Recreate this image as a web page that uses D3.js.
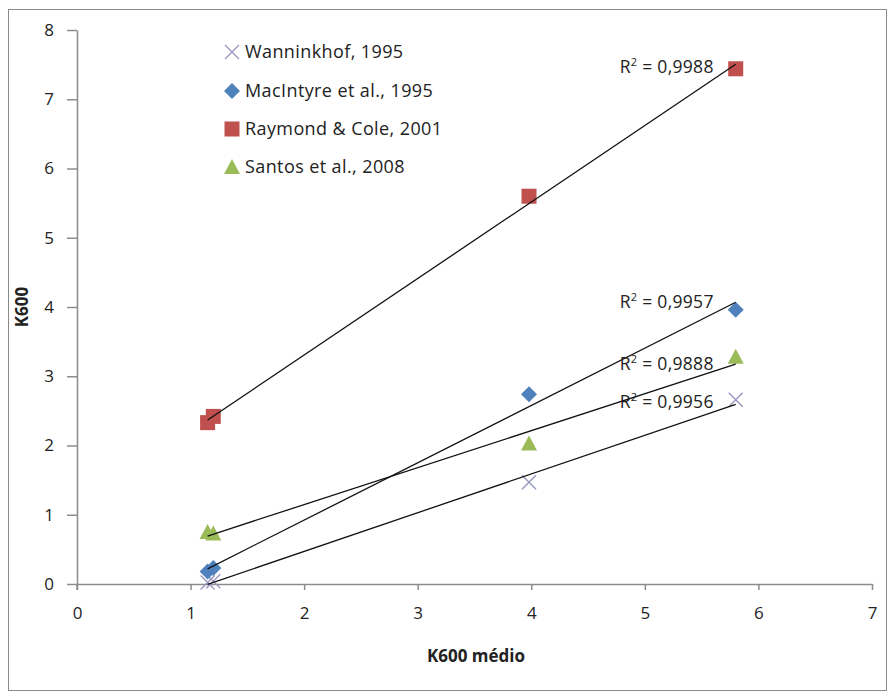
<!DOCTYPE html>
<html><head><meta charset="utf-8">
<script src="https://cdn.jsdelivr.net/npm/d3@7"></script>
<style>body{margin:0;background:#fff}svg{display:block}</style>
</head><body>
<script>
// ---- data ----
const seriesNames = ["Wanninkhof, 1995", "MacIntyre et al., 1995", "Raymond & Cole, 2001", "Santos et al.,  2008"];
const xValues = [1.15, 1.2, 3.98, 5.8];
const wanninkhof = [0.02, 0.04, 1.47, 2.66];
const macintyre = [0.18, 0.23, 2.74, 3.96];
const raymond = [2.33, 2.42, 5.60, 7.44];
const santos = [0.75, 0.73, 2.03, 3.28];
const r2Labels = ["0,9956", "0,9957", "0,9988", "0,9888"];
const xTicks = [0, 1, 2, 3, 4, 5, 6, 7];
const yTicks = [0, 1, 2, 3, 4, 5, 6, 7, 8];
const xTitle = "K600 médio";
const yTitle = "K600";

const W = 891, H = 696;
const svg = d3.select("body").append("svg").attr("width", W).attr("height", H);
const font = "'Open Sans', 'Liberation Sans', sans-serif";

svg.append("rect").attr("x", 8.5).attr("y", 9.5).attr("width", 878).attr("height", 681)
  .attr("fill", "#fff").attr("stroke", "#8a8a8a").attr("stroke-width", 1);

const x = d3.scaleLinear().domain([0, 7]).range([77, 872]);
const y = d3.scaleLinear().domain([0, 8]).range([584, 30]);

const axisColor = "#8c8c8c";
const gx = svg.append("g").attr("transform", `translate(0,${y(0)})`)
  .call(d3.axisBottom(x).tickValues(xTicks).tickFormat(d3.format("d")).tickSize(6).tickSizeOuter(0).tickPadding(17));
const gy = svg.append("g").attr("transform", `translate(${x(0)},0)`)
  .call(d3.axisLeft(y).tickValues(yTicks).tickFormat(d3.format("d")).tickSize(10).tickSizeOuter(0).tickPadding(13));
[gx, gy].forEach(g => {
  g.select(".domain").attr("stroke", axisColor).attr("stroke-width", 1.5);
  g.selectAll(".tick line").attr("stroke", axisColor).attr("stroke-width", 1.5);
  g.selectAll(".tick text").attr("fill", "#222").style("font-family", font).style("font-size", "17px");
});
svg.append("line").attr("x1", x(0)).attr("x2", x(0)).attr("y1", y(0)).attr("y2", y(0) + 6)
  .attr("stroke", axisColor).attr("stroke-width", 1.5);

svg.append("text").attr("x", 476).attr("y", 662).attr("text-anchor", "middle")
  .style("font-family", font).style("font-size", "17px").style("font-weight", "bold").attr("fill", "#222").text(xTitle);
svg.append("text").attr("transform", `translate(28,${y(4)}) rotate(-90)`).attr("text-anchor", "middle")
  .style("font-family", font).style("font-size", "17px").style("font-weight", "bold").attr("fill", "#222").text(yTitle);

const series = [
  {name: seriesNames[0], vals: wanninkhof, color: "#9898c0", shape: "x", r2: r2Labels[0], ldy: 8},
  {name: seriesNames[1], vals: macintyre, color: "#4f81bd", shape: "diamond", r2: r2Labels[1], ldy: -2},
  {name: seriesNames[2], vals: raymond, color: "#c0504d", shape: "square", r2: r2Labels[2], ldy: 4},
  {name: seriesNames[3], vals: santos, color: "#9bbb59", shape: "triangle", r2: r2Labels[3], ldy: 13},
];

function marker(g, shape, color) {
  if (shape === "square") g.append("rect").attr("x", -7.5).attr("y", -7.5).attr("width", 15).attr("height", 15).attr("fill", color);
  else if (shape === "diamond") g.append("path").attr("d", "M0,-8L8,0L0,8L-8,0Z").attr("fill", color);
  else if (shape === "triangle") g.append("path").attr("d", "M0,-8L8,7L-8,7Z").attr("fill", color);
  else g.append("path").attr("d", "M-7,-7L7,7M-7,7L7,-7").attr("stroke", color).attr("stroke-width", 1.4).attr("fill", "none");
}

function regress(xs, ys) {
  const mx = d3.mean(xs), my = d3.mean(ys);
  let sxy = 0, sxx = 0;
  xs.forEach((v, i) => { sxy += (v - mx) * (ys[i] - my); sxx += (v - mx) ** 2; });
  const b = sxy / sxx; return {b, a: my - b * mx};
}

series.forEach(s => {
  s.vals.forEach((v, i) => {
    const g = svg.append("g").attr("transform", `translate(${x(xValues[i])},${y(v)})`);
    marker(g, s.shape, s.color);
  });
});
series.forEach(s => {
  const {a, b} = regress(xValues, s.vals);
  const x0 = d3.min(xValues), x1 = d3.max(xValues);
  svg.append("line").attr("x1", x(x0)).attr("y1", y(a + b * x0)).attr("x2", x(x1)).attr("y2", y(a + b * x1))
    .attr("stroke", "#111").attr("stroke-width", 1.3);
  const t = svg.append("text").attr("x", x(x1) - 22).attr("y", y(s.vals[3]) + s.ldy)
    .attr("text-anchor", "end").style("font-family", font).style("font-size", "17.5px")
    .style("letter-spacing", "0.3px").attr("fill", "#222");
  t.append("tspan").text("R");
  t.append("tspan").attr("dy", -7).style("font-size", "11px").text("2");
  t.append("tspan").attr("dy", 7).text(" = " + s.r2);
});

const legendY = [52, 91, 129, 167];
series.forEach((s, i) => {
  const g = svg.append("g").attr("transform", `translate(232,${legendY[i]})`);
  marker(g, s.shape, s.color);
  svg.append("text").attr("x", 245).attr("y", legendY[i] + 6).style("font-family", font).style("font-size", "18px")
    .style("letter-spacing", "0.4px").attr("fill", "#222").text(s.name);
});
</script>
</body></html>
